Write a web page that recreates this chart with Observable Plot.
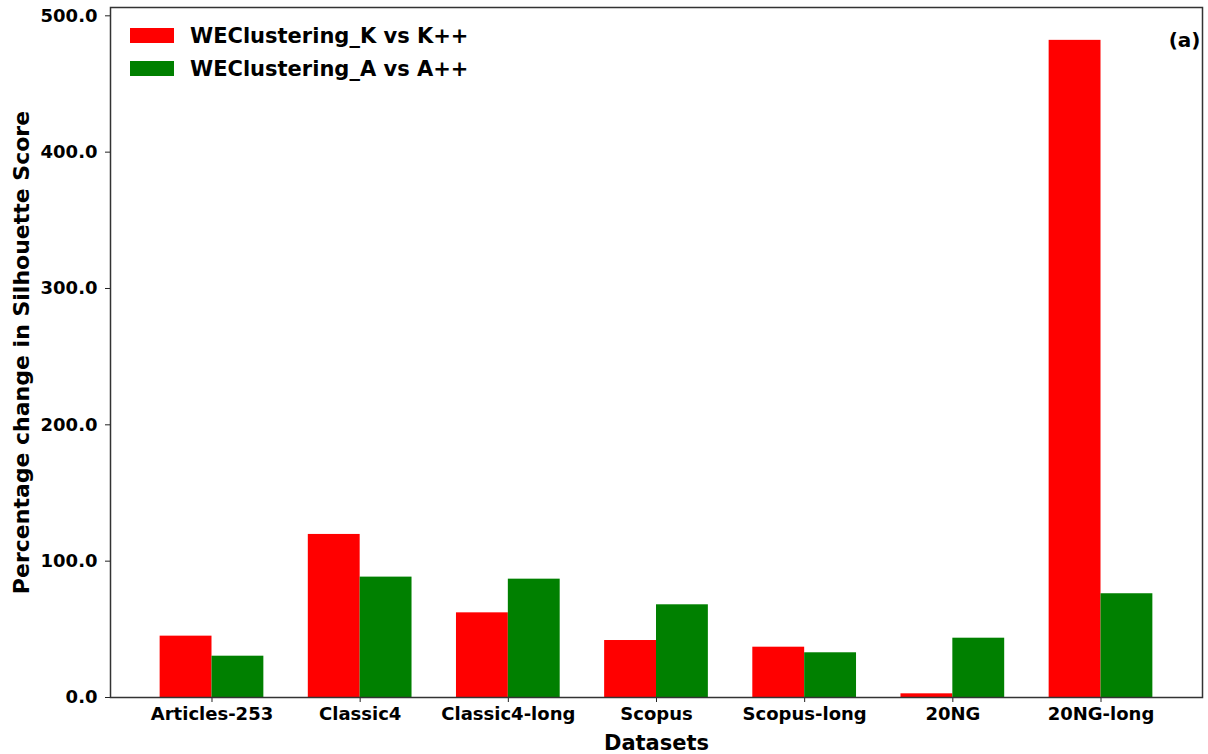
<!DOCTYPE html>
<html>
<head>
<meta charset="utf-8">
<script src="https://cdn.jsdelivr.net/npm/d3@7"></script>
<script src="https://cdn.jsdelivr.net/npm/@observablehq/plot@0.6"></script>
<style>
  html, body { margin: 0; padding: 0; background: #fff; }
  #chart { position: relative; width: 1208px; height: 754px; font-family: "DejaVu Sans", sans-serif; font-weight: bold; }
  #chart g[aria-label="x-axis label"] { font-size: 21px; }
  #chart g[aria-label="y-axis label"] { font-size: 22px; }
  .legend { position: absolute; left: 130px; top: 19px; }
  .legend .row { display: flex; align-items: center; height: 33px; font-size: 21px; color: #000; }
  .legend .swatch { width: 44px; height: 15px; margin-right: 16px; }
</style>
</head>
<body>
<div id="chart"></div>
<script>
// Percentage change in Silhouette Score per dataset
const datasets = ["Articles-253", "Classic4", "Classic4-long", "Scopus", "Scopus-long", "20NG", "20NG-long"];
const kScores = [45.0, 119.6, 62.1, 41.8, 36.9, 2.7, 482.0];   // WEClustering_K vs K++
const aScores = [30.3, 88.3, 86.8, 68.0, 32.8, 43.5, 76.1];    // WEClustering_A vs A++
const seriesNames = ["WEClustering_K vs K++", "WEClustering_A vs A++"];
const seriesColors = ["#ff0000", "#008000"];
const yTicks = [0, 100, 200, 300, 400, 500];

// grouped bars: each series takes one half of a 0.7-wide slot around the dataset index
const barWidth = 0.35;
const rows = datasets.flatMap((name, i) => [
  {i, s: 0, value: kScores[i]},
  {i, s: 1, value: aScores[i]}
]);

const plot = Plot.plot({
  width: 1208,
  height: 754,
  marginLeft: 110,
  marginRight: 6,
  marginTop: 7,
  marginBottom: 57,
  style: {fontFamily: "DejaVu Sans, sans-serif", fontSize: "18px", fontWeight: "bold", color: "#000", background: "#fff"},
  x: {domain: [-0.685, datasets.length - 1 + 0.685]},
  y: {domain: [0, 506.1]},
  marks: [
    Plot.rectY(rows, {
      x1: d => d.i + (d.s - 1) * barWidth,
      x2: d => d.i + d.s * barWidth,
      y: "value",
      fill: d => seriesColors[d.s]
    }),
    Plot.axisX({
      ticks: d3.range(datasets.length),
      tickFormat: i => datasets[i],
      tickSize: 5,
      tickPadding: 5,
      stroke: "#222",
      label: "Datasets",
      labelAnchor: "center",
      labelArrow: "none",
      labelOffset: 52
    }),
    Plot.axisY({
      ticks: yTicks,
      tickFormat: d => d.toFixed(1),
      tickSize: 5,
      tickPadding: 8,
      stroke: "#222",
      label: "Percentage change in Silhouette Score",
      labelAnchor: "center",
      labelArrow: "none",
      labelOffset: 97
    }),
    Plot.frame({stroke: "#333", strokeWidth: 1.5}),
    Plot.text(["(a)"], {frameAnchor: "top-right", dx: -2, dy: 25, fontSize: 20, fontWeight: "bold", fill: "#000", textAnchor: "end"})
  ]
});

const chart = document.getElementById("chart");
chart.appendChild(plot);

// legend inside the plot area, top-left
const legend = document.createElement("div");
legend.className = "legend";
seriesNames.forEach((name, k) => {
  const row = document.createElement("div");
  row.className = "row";
  const sw = document.createElement("span");
  sw.className = "swatch";
  sw.style.background = seriesColors[k];
  const label = document.createElement("span");
  label.textContent = name;
  row.appendChild(sw);
  row.appendChild(label);
  legend.appendChild(row);
});
chart.appendChild(legend);
</script>
</body>
</html>
